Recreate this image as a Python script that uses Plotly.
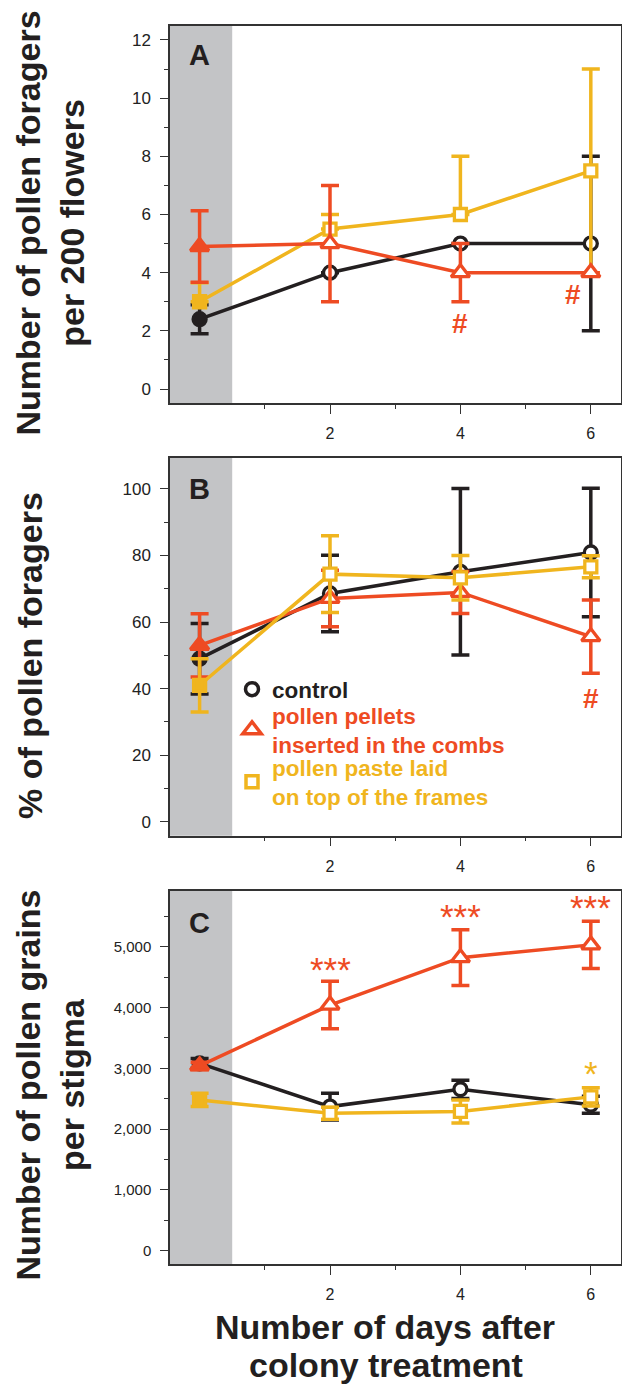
import plotly.graph_objects as go

# ---------------- data ----------------
days = [0, 2, 4, 6]
series_names = ["control", "pollen pellets<br>inserted in the combs", "pollen paste laid<br>on top of the frames"]

# Panel A: number of pollen foragers per 200 flowers
a_control = [2.4, 4.0, 5.0, 5.0]
a_control_err = [0.5, 0.0, 0.0, 3.0]
a_pellets = [4.9, 5.0, 4.0, 4.0]
a_pellets_err = [1.23, 2.0, 1.0, 0.0]
a_paste = [3.0, 5.5, 6.0, 7.5]
a_paste_err_plus = [0.65, 0.5, 2.0, 3.5]
a_paste_err_minus = [0.0, 0.0, 0.0, 3.5]

# Panel B: % of pollen foragers
b_control = [49, 68.6, 75.1, 80.9]
b_control_err = [10.6, 11.5, 25.0, 19.3]
b_pellets = [53, 67.1, 68.9, 55.6]
b_pellets_err = [9.5, 8.5, 6.3, 11.0]
b_paste = [41, 74.4, 73.3, 76.6]
b_paste_err = [8.0, 11.5, 6.7, 3.3]

# Panel C: number of pollen grains per stigma
c_control = [3080, 2370, 2655, 2400]
c_control_err = [80, 220, 150, 140]
c_pellets = [3040, 4040, 4820, 5030]
c_pellets_err = [60, 390, 460, 390]
c_paste = [2480, 2260, 2290, 2530]
c_paste_err = [110, 100, 190, 150]

# significance marks (x, y, text)
a_marks = [(4, 2.25, "#"), (5.72, 3.25, "#")]
b_marks = [(6, 37.0, "#")]
c_marks_red = [(2, 4620, "***"), (4, 5500, "***"), (6, 5640, "***")]
c_marks_yel = [(6, 2920, "*")]

a_ticks = [0, 2, 4, 6, 8, 10, 12]
b_ticks = [0, 20, 40, 60, 80, 100]
c_ticks = [0, 1000, 2000, 3000, 4000, 5000]
c_ticklabels = ["0", "1,000", "2,000", "3,000", "4,000", "5,000"]
x_ticks = [2, 4, 6]
x_minor = [1, 3, 5]

# ---------------- style ----------------
BLACK = "#231F20"
RED = "#EE4B23"
YEL = "#F0B51E"
GREY = "#C3C4C6"
FONT = "Liberation Sans"
W, H = 622, 1387

XR = [-0.454, 6.463]
dom_x = [170 / W, 621 / W]
dom_a = [1 - 403 / H, 1 - 25.7 / H]
dom_b = [1 - 835.7 / H, 1 - 458 / H]
dom_c = [1 - 1264 / H, 1 - 890.7 / H]

fig = go.Figure()

def add_series(xa, ya, y, err_p, err_m, color, symbol, size):
    fills = [color if i == 0 else "white" for i in range(len(y))]
    fig.add_trace(go.Scatter(
        x=days, y=y, xaxis=xa, yaxis=ya, mode="lines+markers",
        line=dict(color=color, width=3.5),
        marker=dict(symbol=symbol, size=size, color=fills,
                    line=dict(color=color, width=3.3)),
        error_y=dict(type="data", symmetric=False, array=err_p, arrayminus=err_m,
                     color=color, thickness=3.5, width=9),
        showlegend=False, hoverinfo="skip"))

CS, TS, SS = 13, 16, 12
# A
add_series("x", "y", a_control, a_control_err, a_control_err, BLACK, "circle", CS)
add_series("x", "y", a_paste, a_paste_err_plus, a_paste_err_minus, YEL, "square", SS)
add_series("x", "y", a_pellets, a_pellets_err, a_pellets_err, RED, "triangle-up", TS)
# B
add_series("x2", "y2", b_control, b_control_err, b_control_err, BLACK, "circle", CS)
add_series("x2", "y2", b_pellets, b_pellets_err, b_pellets_err, RED, "triangle-up", TS)
add_series("x2", "y2", b_paste, b_paste_err, b_paste_err, YEL, "square", SS)
# C
add_series("x3", "y3", c_control, c_control_err, c_control_err, BLACK, "circle", CS)
add_series("x3", "y3", c_paste, c_paste_err, c_paste_err, YEL, "square", SS)
add_series("x3", "y3", c_pellets, c_pellets_err, c_pellets_err, RED, "triangle-up", TS)

# legend entries (marker only), each in its own legend box
legend_specs = [("legend", series_names[0], BLACK, "circle", 13),
                ("legend2", series_names[1], RED, "triangle-up", 16),
                ("legend3", series_names[2], YEL, "square", 12)]
for lg, name, color, symbol, size in legend_specs:
    fig.add_trace(go.Scatter(
        x=[None], y=[None], xaxis="x2", yaxis="y2", mode="markers", legend=lg,
        name=f"<span style='color:{color}'>{name}</span>",
        marker=dict(symbol=symbol, size=size, color="white", line=dict(color=color, width=3.5)),
        showlegend=True))

axis_common = dict(showline=True, linecolor="#333", linewidth=1.5, mirror=True,
                   ticks="outside", tickcolor="#333", tickwidth=1.3,
                   showgrid=False, zeroline=False)

def xaxis(anchor):
    return dict(domain=dom_x, anchor=anchor, range=XR, tickmode="array",
                tickvals=x_ticks, ticktext=[str(v) for v in x_ticks], ticklen=9,
                tickfont=dict(family=FONT, size=16, color="#222"),
                minor=dict(tickmode="array", tickvals=x_minor, ticklen=4,
                           ticks="outside", tickcolor="#333", tickwidth=1.3),
                ticklabelstandoff=6, **axis_common)

def yaxis(anchor, dom, rng, ticks, labels, minor_dtick, fsize):
    return dict(domain=dom, anchor=anchor, range=rng, tickmode="array",
                tickvals=ticks, ticktext=labels, ticklen=8,
                tickfont=dict(family=FONT, size=fsize, color="#222"),
                minor=dict(dtick=minor_dtick, tick0=0, ticklen=4, ticks="outside",
                           tickcolor="#333", tickwidth=1.3),
                ticklabelstandoff=6, **axis_common)

leg_font = dict(family=FONT, size=22.5, weight="bold")
def legend_box(top_px):
    return dict(x=232 / W, y=1 - top_px / H, xanchor="left", yanchor="top",
                bgcolor="rgba(0,0,0,0)", itemsizing="trace", font=leg_font, valign="middle")

fig.update_layout(
    width=W, height=H, margin=dict(l=0, r=0, t=0, b=0),
    paper_bgcolor="white", plot_bgcolor="white",
    xaxis=xaxis("y"), xaxis2=xaxis("y2"), xaxis3=xaxis("y3"),
    yaxis=yaxis("x", dom_a, [-0.48, 12.49], a_ticks, [str(v) for v in a_ticks], 1, 17),
    yaxis2=yaxis("x2", dom_b, [-4.2, 109.3], b_ticks, [str(v) for v in b_ticks], 10, 17),
    yaxis3=yaxis("x3", dom_c, [-219, 5921], c_ticks, c_ticklabels, 500, 15),
    legend=legend_box(668), legend2=legend_box(694), legend3=legend_box(746),
    showlegend=True,
)

# grey pre-treatment band
for xr, yr in [("x", "y"), ("x2", "y2"), ("x3", "y3")]:
    fig.add_shape(type="rect", xref=xr, yref=f"{yr} domain", x0=XR[0], x1=0.5, y0=0, y1=1,
                  fillcolor=GREY, line_width=0, layer="below")

ann = []
# panel letters
for xr, yr, letter, yd in [("x", "y", "A", 0.922), ("x2", "y2", "B", 0.918), ("x3", "y3", "C", 0.9135)]:
    ann.append(dict(xref=f"{xr} domain", yref=f"{yr} domain", x=0.0665, y=yd, text=letter,
                    xanchor="center", yanchor="middle", showarrow=False,
                    font=dict(family=FONT, size=29, weight="bold", color="#231F20")))
# significance
for x, y, t in a_marks:
    ann.append(dict(xref="x", yref="y", x=x, y=y, text=t, showarrow=False,
                    font=dict(family=FONT, size=28, weight="bold", color=RED)))
for x, y, t in b_marks:
    ann.append(dict(xref="x2", yref="y2", x=x, y=y, text=t, showarrow=False,
                    font=dict(family=FONT, size=28, weight="bold", color=RED)))
for x, y, t in c_marks_red:
    ann.append(dict(xref="x3", yref="y3", x=x, y=y, text=t, showarrow=False,
                    font=dict(family=FONT, size=35, color=RED)))
for x, y, t in c_marks_yel:
    ann.append(dict(xref="x3", yref="y3", x=x, y=y, text=t, showarrow=False,
                    font=dict(family=FONT, size=35, color=YEL)))

title_font = dict(family=FONT, size=34, weight="bold", color="#231F20")
ann.append(dict(xref="paper", yref="paper", x=49.5 / W, y=1 - 223 / H, textangle=-90,
                text="Number of pollen foragers<br>per 200 flowers", showarrow=False,
                font=title_font, xanchor="center", yanchor="middle"))
ann.append(dict(xref="paper", yref="paper", x=30 / W, y=1 - 656 / H, textangle=-90,
                text="% of pollen foragers", showarrow=False,
                font=title_font, xanchor="center", yanchor="middle"))
ann.append(dict(xref="paper", yref="paper", x=49.5 / W, y=1 - 1085 / H, textangle=-90,
                text="Number of pollen grains<br>per stigma", showarrow=False,
                font=title_font, xanchor="center", yanchor="middle"))
ann.append(dict(xref="paper", yref="paper", x=385 / W, y=1 - 1327 / H,
                text="Number of days after", showarrow=False,
                font=title_font, xanchor="center", yanchor="middle"))
ann.append(dict(xref="paper", yref="paper", x=386 / W, y=1 - 1365 / H,
                text="colony treatment", showarrow=False,
                font=title_font, xanchor="center", yanchor="middle"))

fig.update_layout(annotations=ann)
fig.write_html("out.html")
